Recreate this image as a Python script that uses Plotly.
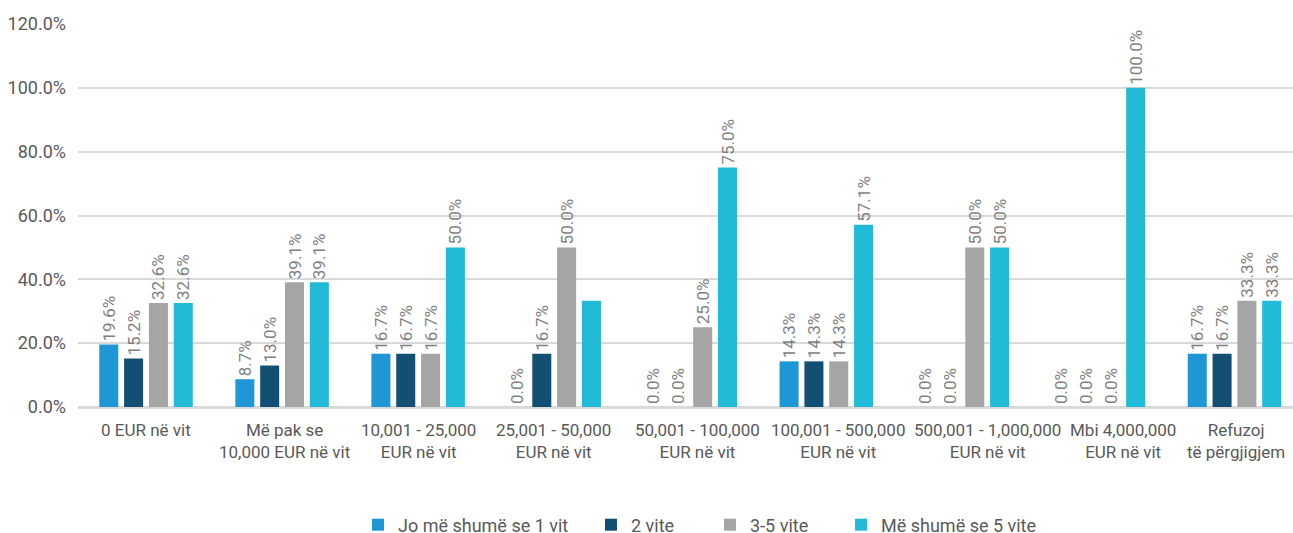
import plotly.graph_objects as go

categories = [
    "0 EUR në vit",
    "Më pak se<br>10,000 EUR në vit",
    "10,001 - 25,000<br>EUR në vit",
    "25,001 - 50,000<br>EUR në vit",
    "50,001 - 100,000<br>EUR në vit",
    "100,001 - 500,000<br>EUR në vit",
    "500,001 - 1,000,000<br>EUR në vit",
    "Mbi 4,000,000<br>EUR në vit",
    "Refuzoj<br>të përgjigjem",
]

series_names = ["Jo më shumë se 1 vit", "2 vite", "3-5 vite", "Më shumë se 5 vite"]
s1 = [19.6, 8.7, 16.7, 0.0, 0.0, 14.3, 0.0, 0.0, 16.7]
s2 = [15.2, 13.0, 16.7, 16.7, 0.0, 14.3, 0.0, 0.0, 16.7]
s3 = [32.6, 39.1, 16.7, 50.0, 25.0, 14.3, 50.0, 0.0, 33.3]
s4 = [32.6, 39.1, 50.0, 33.3, 75.0, 57.1, 50.0, 100.0, 33.3]
# which data labels are displayed in the reference
show1 = [True] * 9
show2 = [True] * 9
show3 = [True] * 9
show4 = [True, True, True, False, True, True, True, True, True]

colors = ["#1f97d4", "#124f73", "#a5a5a5", "#21bbd8"]
y_ticks = [0, 20, 40, 60, 80, 100, 120]

# horizontal nudges (px) of category labels as placed in the reference
label_shift = [0, 2, 0, -1, 7, 12, 25, 25, 2]

W, H = 1293, 533
ML, MR, MT, MB = 78, 0, 24, 126
plot_w = W - ML - MR
plot_h = H - MT - MB

# legend entry left edges (pixels) -> one legend per series
legend_px = [358, 591, 710, 841]
legend_ids = ["legend", "legend2", "legend3", "legend4"]

fig = go.Figure()
for name, vals, show, col, lid in zip(series_names, [s1, s2, s3, s4],
                                      [show1, show2, show3, show4], colors, legend_ids):
    fig.add_trace(go.Bar(
        name=name,
        x=categories,
        y=vals,
        legend=lid,
        marker=dict(color=col, line=dict(width=0)),
        text=[f"{v:.1f}%" if s else "" for v, s in zip(vals, show)],
        textposition="outside",
        textangle=-90,
        constraintext="none",
        cliponaxis=False,
        textfont=dict(family="Roboto", size=17, color="#7f7f7f"),
    ))

for cat, dx in zip(categories, label_shift):
    fig.add_annotation(
        x=cat, y=0, xref="x", yref="y",
        text=cat, showarrow=False,
        xanchor="center", yanchor="top",
        xshift=dx, yshift=-11,
        align="center",
        font=dict(family="Roboto", size=17, color="#595959"),
    )

legend_y = -(525 - (H - MB)) / plot_h
legends = {}
for lid, px in zip(legend_ids, legend_px):
    legends[lid] = dict(
        orientation="h",
        x=(px - ML) / plot_w,
        xanchor="left",
        y=legend_y,
        yanchor="middle",
        font=dict(size=18, color="#595959"),
        itemwidth=30,
        bgcolor="rgba(0,0,0,0)",
    )

fig.update_layout(
    barmode="group",
    bargap=0.27,
    bargroupgap=0.234,
    width=W,
    height=H,
    margin=dict(l=ML, r=MR, t=MT, b=MB, autoexpand=False),
    plot_bgcolor="white",
    paper_bgcolor="white",
    font=dict(family="Roboto", size=17, color="#595959"),
    showlegend=True,
    xaxis=dict(
        range=[-0.5, 8.43],
        showgrid=False,
        showline=False,
        ticks="",
        showticklabels=False,
        automargin=False,
    ),
    yaxis=dict(
        range=[0, 120],
        tickvals=y_ticks,
        ticktext=[f"{v:.1f}%" for v in y_ticks],
        showgrid=True,
        gridcolor="#d9d9d9",
        gridwidth=2,
        zeroline=True,
        zerolinecolor="#d9d9d9",
        zerolinewidth=3,
        ticks="",
        automargin=False,
        ticklabelstandoff=11,
        tickfont=dict(size=18, color="#595959"),
    ),
    **legends,
)

fig.write_html(
    "out.html",
    config={"displayModeBar": False},
    post_script="document.body.style.margin='0';document.body.style.overflow='hidden';",
)
